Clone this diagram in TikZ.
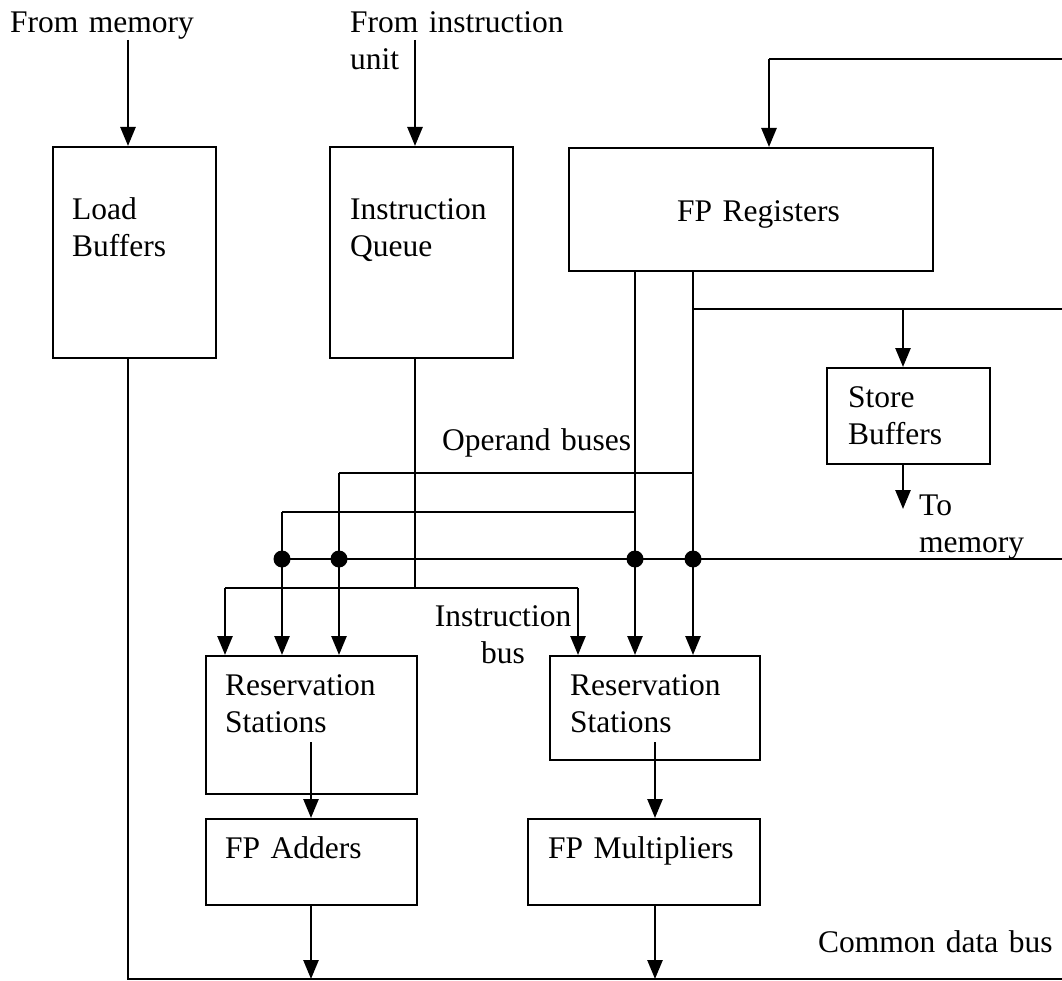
\documentclass[tikz,border=0pt]{standalone}
\usepackage{fontspec}
\setmainfont{Liberation Serif}
\usetikzlibrary{arrows.meta}
\begin{document}
\begin{tikzpicture}[x=1pt,y=-1pt,
  box/.style={draw,line width=2pt,rectangle,anchor=north west,inner sep=0pt},
  txt/.style={inner sep=0pt,anchor=base west,align=left,text width=400pt},
  ctxt/.style={inner sep=0pt,anchor=base,align=center,text width=150pt},
  wire/.style={line width=2.6pt},
  thin/.style={line width=2pt},
  arr/.style={line width=2.6pt,-{Triangle[length=19pt,width=15pt]}},
  dot/.style={circle,fill,inner sep=0pt,minimum size=17pt}
]
\useasboundingbox (0,0) rectangle (1062,981);
\tikzset{every node/.append style={font=\fontsize{31.5}{37}\selectfont}}

% boxes
\node[box,minimum width=163pt,minimum height=211pt] (load) at (52,146) {};
\node[box,minimum width=183pt,minimum height=211pt] (iq) at (329,146) {};
\node[box,minimum width=364pt,minimum height=123pt] (fpr) at (568,147) {};
\node[box,minimum width=163pt,minimum height=96pt] (store) at (826,367) {};
\node[box,minimum width=211pt,minimum height=138pt] (rs1) at (205,655) {};
\node[box,minimum width=210pt,minimum height=104pt] (rs2) at (549,655) {};
\node[box,minimum width=211pt,minimum height=86pt] (add) at (205,818) {};
\node[box,minimum width=232pt,minimum height=86pt] (mul) at (527,818) {};

% texts
\node[txt] (tmem) at (10,33) {From memory};
\node[txt] (tiu) at (350,33) {From instruction\\unit};
\node[txt] (tload) at (72,220) {Load\\Buffers};
\node[txt] (tiq) at (350,220) {Instruction\\Queue};
\node[txt] (tfpr) at (677,222) {FP Registers};
\node[txt] (tstore) at (848,407) {Store\\Buffers};
\node[txt] (tto) at (919,515) {To\\memory};
\node[txt] (top) at (442,450) {Operand buses};
\node[ctxt] (tib) at (503,626) {Instruction\\bus};
\node[txt] (trs1) at (225,695) {Reservation\\Stations};
\node[txt] (trs2) at (570,695) {Reservation\\Stations};
\node[txt] (tadd) at (225,858) {FP Adders};
\node[txt] (tmul) at (548,858) {FP Multipliers};
\node[txt] (tcdb) at (818,952) {Common data bus};

% coordinates
\coordinate (memsrc) at (128,40);
\coordinate (iusrc) at (415,40);
\coordinate (fbR) at (1062,59);
\coordinate (fbL) at (769,59);
\coordinate (regbusR) at (1062,309);
\coordinate (regbusL) at (693,309);
\coordinate (stin) at (903,309);
\coordinate (tomem) at (903,509);
\coordinate (opA) at (693,473);
\coordinate (opAL) at (339,473);
\coordinate (opB) at (635,512);
\coordinate (opBL) at (282,512);
\coordinate (cdbR) at (1062,559);
\coordinate (ibL) at (225,588);
\coordinate (ibR) at (578,588);
\coordinate (ibM) at (415,588);
\coordinate (cdbBL) at (128,979);
\coordinate (cdbBR) at (1062,979);

% inputs
\draw[arr] (memsrc) -- (memsrc |- load.north);
\draw[arr] (iusrc) -- (iusrc |- iq.north);
\draw[wire] (fbR) -- (fbL);
\draw[arr] (fbL) -- (fbL |- fpr.north);

% register outputs
\draw[thin] (fpr.south -| opB) -- (opB);
\draw[arr] (opB) -- (opB |- rs2.north);
\draw[wire] (fpr.south -| opA) -- (opA);
\draw[arr] (opA) -- (opA |- rs2.north);
\draw[thin] (regbusL) -- (regbusR);
\draw[arr] (stin) -- (stin |- store.north);
\draw[arr] (store.south -| stin) -- (tomem);

% operand buses
\draw[wire] (opA) -- (opAL);
\draw[arr] (opAL) -- (opAL |- rs1.north);
\draw[wire] (opB) -- (opBL);
\draw[arr] (opBL) -- (opBL |- rs1.north);

% CDB branch
\draw[wire] (cdbR) -- (cdbR -| opBL);
\foreach \c in {opBL,opAL,opB,opA} \node[dot] at (\c |- cdbR) {};

% instruction bus
\draw[thin] (iq.south -| ibM) -- (ibM);
\draw[wire] (ibL) -- (ibR);
\draw[arr] (ibL) -- (ibL |- rs1.north);
\draw[arr] (ibR) -- (ibR |- rs2.north);

% units
\draw[arr] (311,742) -- (add.north -| 311,0);
\draw[arr] (655,742) -- (mul.north -| 655,0);
\draw[arr] (add.south -| 311,0) -- (cdbBL -| 311,0);
\draw[arr] (mul.south -| 655,0) -- (cdbBL -| 655,0);

% common data bus
\draw[wire] (load.south -| memsrc) -- (cdbBL) -- (cdbBR);
\end{tikzpicture}
\end{document}
